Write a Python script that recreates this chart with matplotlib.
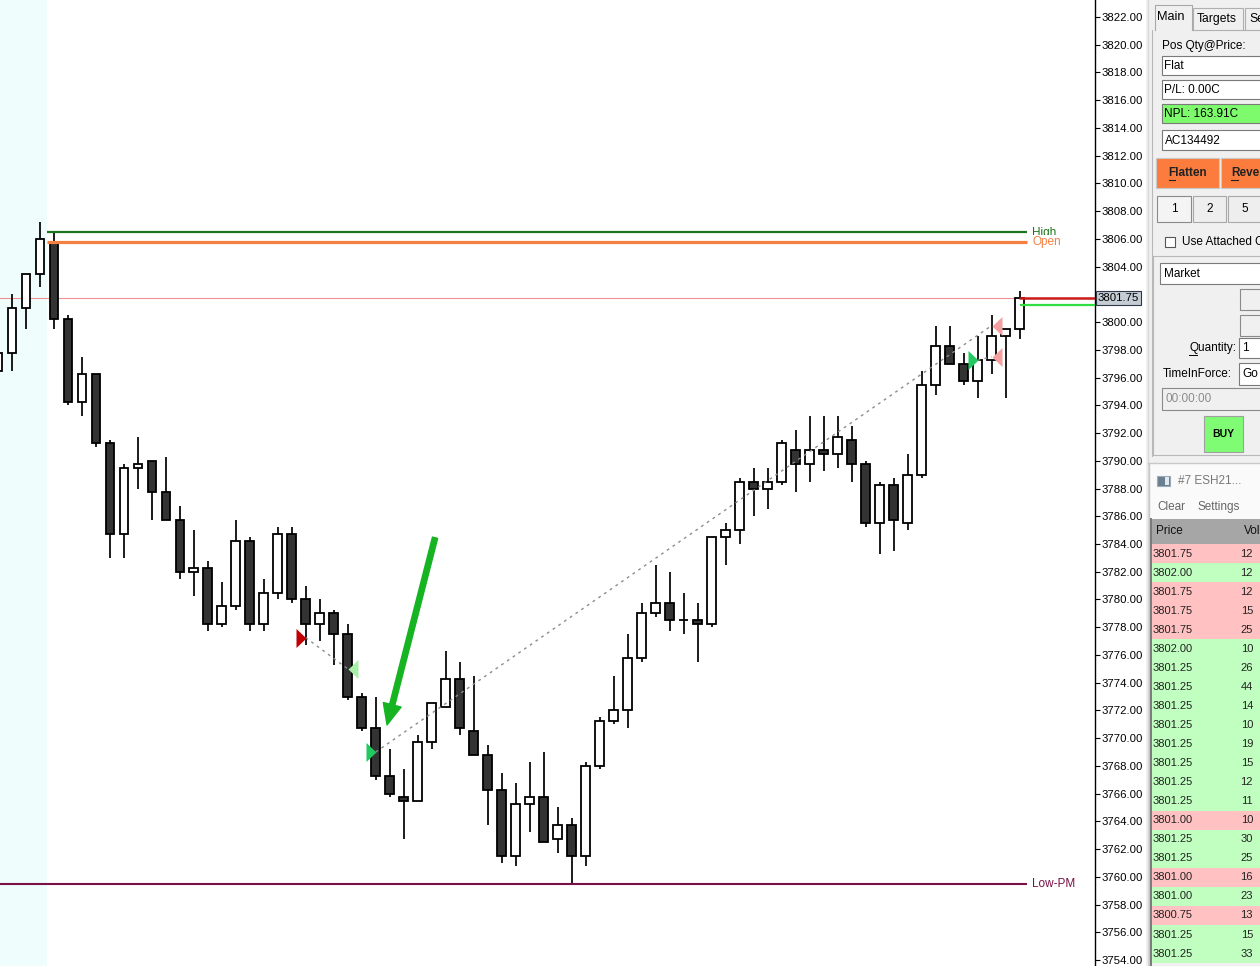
import matplotlib
matplotlib.use("Agg")
import matplotlib.pyplot as plt
import matplotlib.transforms as mtransforms
import numpy as np
from matplotlib.patches import Rectangle

plt.rcParams["font.family"] = ["Liberation Sans", "DejaVu Sans"]

# ---- bars (1-minute ES, first bar is only partly visible) ----
opens = [3796.50, 3797.75, 3801.00, 3803.50, 3805.75, 3800.25, 3794.25, 3796.25, 3791.25, 3784.75,
         3789.50, 3790.00, 3787.75, 3785.75, 3782.00, 3782.25, 3778.25, 3779.50, 3784.25, 3778.25,
         3780.50, 3784.75, 3780.00, 3778.25, 3779.00, 3777.50, 3773.00, 3770.75, 3767.25, 3765.75,
         3765.50, 3769.75, 3772.25, 3774.25, 3770.50, 3768.75, 3766.25, 3761.50, 3765.25, 3765.75,
         3762.75, 3763.75, 3761.50, 3768.00, 3771.25, 3772.00, 3775.75, 3779.00, 3779.75, 3778.50,
         3778.50, 3778.25, 3784.50, 3785.00, 3788.50, 3788.00, 3788.50, 3790.75, 3789.75, 3790.75,
         3790.50, 3791.50, 3789.75, 3785.50, 3788.25, 3785.50, 3789.00, 3795.50, 3798.25, 3797.00,
         3795.75, 3797.25, 3799.00, 3799.50]
highs = [3797.75, 3802.00, 3803.50, 3807.25, 3806.50, 3800.50, 3797.50, 3796.25, 3791.50, 3789.75,
         3791.75, 3790.00, 3790.25, 3786.75, 3785.00, 3782.75, 3781.25, 3785.75, 3784.50, 3781.50,
         3785.25, 3785.25, 3781.00, 3780.00, 3779.25, 3778.25, 3773.25, 3773.00, 3769.25, 3767.75,
         3770.25, 3772.50, 3776.25, 3775.50, 3774.50, 3769.50, 3767.50, 3766.75, 3768.25, 3769.00,
         3765.00, 3764.25, 3768.25, 3771.50, 3774.50, 3777.50, 3779.75, 3782.50, 3782.00, 3780.50,
         3779.75, 3784.50, 3785.50, 3788.75, 3789.50, 3789.50, 3791.50, 3792.25, 3793.25, 3793.25,
         3793.25, 3792.50, 3790.00, 3788.50, 3788.75, 3790.50, 3796.50, 3799.75, 3799.75, 3797.75,
         3799.00, 3800.50, 3799.50, 3802.25]
lows = [3796.50, 3796.50, 3799.50, 3802.50, 3799.50, 3794.00, 3793.25, 3791.00, 3783.00, 3783.00,
        3788.00, 3785.75, 3785.75, 3781.50, 3780.25, 3777.75, 3778.00, 3779.25, 3777.75, 3777.75,
        3780.00, 3779.75, 3776.75, 3777.00, 3775.25, 3772.75, 3770.50, 3767.00, 3765.75, 3762.75,
        3765.50, 3769.25, 3772.25, 3770.25, 3768.75, 3763.75, 3761.00, 3760.75, 3763.25, 3762.50,
        3761.75, 3759.50, 3760.75, 3767.75, 3771.00, 3770.75, 3775.50, 3778.75, 3777.75, 3777.50,
        3775.50, 3778.00, 3782.50, 3784.00, 3786.00, 3786.50, 3788.25, 3787.75, 3788.50, 3789.25,
        3789.50, 3788.50, 3785.25, 3783.25, 3783.50, 3785.00, 3788.75, 3794.75, 3797.00, 3795.50,
        3794.50, 3796.25, 3794.50, 3798.75]
closes = [3797.75, 3801.00, 3803.50, 3806.00, 3800.25, 3794.25, 3796.25, 3791.25, 3784.75, 3789.50,
          3789.75, 3787.75, 3785.75, 3782.00, 3782.25, 3778.25, 3779.50, 3784.25, 3778.25, 3780.50,
          3784.75, 3780.00, 3778.25, 3779.00, 3777.50, 3773.00, 3770.75, 3767.25, 3766.00, 3765.50,
          3769.75, 3772.50, 3774.25, 3770.75, 3768.75, 3766.25, 3761.50, 3765.25, 3765.75, 3762.50,
          3763.75, 3761.50, 3768.00, 3771.25, 3772.00, 3775.75, 3779.00, 3779.75, 3778.50, 3778.50,
          3778.25, 3784.50, 3785.00, 3788.50, 3788.00, 3788.50, 3791.25, 3789.75, 3790.75, 3790.50,
          3791.75, 3789.75, 3785.50, 3788.25, 3785.75, 3789.00, 3795.50, 3798.25, 3797.00, 3795.75,
          3797.25, 3799.00, 3799.50, 3801.75]

first_rth_bar = 4          # bars before this are pre-market
session_high = 3806.50
session_open = 3805.75
premarket_low = 3759.50
last_price = 3801.75
ask_price = 3801.75
bid_price = 3801.25

# ---- executions: bar, price, kind ----
fill_bar = [22, 25, 27, 70, 71, 71]
fill_price = [3777.25, 3775.00, 3769.00, 3797.25, 3799.75, 3797.50]
fill_kind = ["sell_entry", "buy_exit", "buy_entry", "buy_entry", "sell_exit", "sell_exit"]
fill_pairs = [(0, 1), (2, 4), (3, 5)]

# hand-drawn arrow (bar, price)
arrow_tail = (31.24, 3784.45)
arrow_head = (27.81, 3770.95)

# the 3802 label sits under the last-price box
price_ticks = [t for t in range(3754, 3823, 2) if t != 3802]

# ---- time & sales tape ----
tape_price = ["3801.75", "3802.00", "3801.75", "3801.75", "3801.75", "3802.00", "3801.25", "3801.25",
              "3801.25", "3801.25", "3801.25", "3801.25", "3801.25", "3801.25", "3801.00", "3801.25",
              "3801.25", "3801.00", "3801.00", "3800.75", "3801.25", "3801.25"]
tape_vol = [12, 12, 12, 15, 25, 10, 26, 44, 14, 10, 19, 15, 12, 11, 10, 30, 25, 16, 23, 13, 15, 33]
tape_side = ["bid", "ask", "bid", "bid", "bid", "ask", "ask", "ask", "ask", "ask", "ask", "ask",
             "ask", "ask", "bid", "ask", "ask", "bid", "ask", "bid", "ask", "ask"]

W, H = 1260, 966
fig = plt.figure(figsize=(W / 100, H / 100), dpi=100)
fig.patch.set_facecolor("white")

chart_w = 1095
ax = fig.add_axes([0, 0, chart_w / W, 1])
ax.set_ylim(3753.569, 3823.226)
ax.set_xlim(0.164, 78.38)

x = np.arange(len(opens))
o = np.array(opens); c = np.array(closes); hi = np.array(highs); lo = np.array(lows)
up = c >= o

ax.axvspan(0.164, first_rth_bar - 0.48, color="#f0fdfd", zorder=0, lw=0)

ax.vlines(x, lo, hi, color="black", lw=1.25, zorder=2)
ax.bar(x[up], (c - o)[up], bottom=o[up], width=0.6, facecolor="white", edgecolor="black", lw=1.3, zorder=3)
ax.bar(x[~up], (o - c)[~up], bottom=c[~up], width=0.6, facecolor="#333333", edgecolor="black", lw=1.3, zorder=3)

line_end = x[-1] + 0.52
lbl_x = x[-1] + 0.88
ax.hlines(session_high, first_rth_bar - 0.48, line_end, color="#1c741c", lw=1.6, zorder=4)
ax.hlines(session_open, first_rth_bar - 0.48, line_end, color="#f47f40", lw=2.3, zorder=4)
ax.hlines(premarket_low, 0.164, line_end, color="#7a1045", lw=1.5, zorder=4)
ax.text(lbl_x, session_high - 0.08, "High", color="#1c741c", fontsize=8.5, va="center", zorder=5)
ax.text(lbl_x, session_open, "Open", color="#f47f40", fontsize=8.5, va="center", zorder=6,
        bbox=dict(fc="white", ec="none", pad=1.0))
ax.text(lbl_x, premarket_low, "Low-PM", color="#7a1045", fontsize=8.5, va="center", zorder=5)

ax.axhline(last_price, color="#f09090", lw=0.8, zorder=1)
ax.hlines(ask_price, x[-1] - 0.05, 78.38, color="#cc1a1a", lw=1.8, zorder=5)
ax.hlines(bid_price, x[-1], 78.38, color="#33dd44", lw=1.6, zorder=5)

# executions
right_tri = [(-1, -1.9), (1, 0), (-1, 1.9), (-1, -1.9)]
left_tri = [(1, -1.9), (-1, 0), (1, 1.9), (1, -1.9)]
kind_style = {"sell_entry": ("#c00000", right_tri, -0.36),
              "buy_entry": ("#22c860", right_tri, -0.36),
              "buy_exit": ("#a8f0a8", left_tri, 0.38),
              "sell_exit": ("#f4a0a0", left_tri, 0.38)}
for a, b in fill_pairs:
    ax.plot([fill_bar[a], fill_bar[b]], [fill_price[a], fill_price[b]], color="#8c8c8c",
            lw=1.0, ls=(0, (2, 3)), zorder=6)
for b, p, k in zip(fill_bar, fill_price, fill_kind):
    col, mk, off = kind_style[k]
    ax.plot(b + off, p, marker=mk, ms=13.7, color=col, mew=0, ls="none", zorder=7)

ax.annotate("", xy=arrow_head, xytext=arrow_tail,
            arrowprops=dict(arrowstyle="simple,head_length=1.25,head_width=1.1,tail_width=0.32",
                            color="#16b423", mutation_scale=12, shrinkA=0, shrinkB=0), zorder=8)

for s in ["top", "left", "bottom"]:
    ax.spines[s].set_visible(False)
ax.spines["right"].set_color("black")
ax.spines["right"].set_linewidth(1.0)
ax.set_xticks([])
ax.yaxis.tick_right()
ax.set_yticks(price_ticks)
ax.set_yticklabels([f"{t:.2f}" for t in price_ticks], fontsize=8.2)
ax.tick_params(axis="y", direction="out", length=3.5, width=0.8, pad=1.5)

trans = mtransforms.blended_transform_factory(ax.transAxes, ax.transData)
ax.text(1.0 + 3 / chart_w, last_price, f"{last_price:.2f}", transform=trans, fontsize=8.2, va="center",
        ha="left", bbox=dict(fc="#c4ccd4", ec="#303848", lw=0.8, pad=1.2), zorder=10, clip_on=False)

# ---- side panel (pixel coordinates) ----
x0 = 1146
sp = fig.add_axes([x0 / W, 0, (W - x0) / W, 1])
sp.set_xlim(x0, W)
sp.set_ylim(H, 0)
sp.axis("off")
sp.add_patch(Rectangle((x0, 0), W - x0, H, fc="#f0f0f0", ec="none"))
sp.plot([1147.5, 1147.5], [0, H], color="#d8d8d8", lw=1)


def box(xa, ya, xb, yb, fc="white", ec="#7a7a7a", lw=0.8):
    sp.add_patch(Rectangle((xa, ya), xb - xa, yb - ya, fc=fc, ec=ec, lw=lw))


def label(xp, yp, s, **kw):
    kw.setdefault("fontsize", 8.5)
    kw.setdefault("va", "center")
    sp.text(xp, yp, s, **kw)


# tabs
sp.plot([1152, 1152], [30, 456], color="#b8b8b8", lw=0.8)
sp.plot([1192, 1262], [30, 30], color="#b0b0b0", lw=0.8)
sp.plot([1155, 1155, 1192, 1192], [30, 5, 5, 30], color="#a8a8a8", lw=0.8)
sp.plot([1193, 1193, 1243, 1243], [30, 8, 8, 30], color="#b0b0b0", lw=0.8)
sp.plot([1245, 1245, 1262], [30, 8, 8], color="#b0b0b0", lw=0.8)
label(1157, 17, "Main", fontsize=9.2)
label(1197, 19, "Targets", fontsize=8.7)
label(1249, 19, "Se", fontsize=8.7)

label(1162, 46, "Pos Qty@Price:")
box(1162, 56, 1264, 75)
label(1164, 66, "Flat")
box(1162, 80, 1264, 99)
label(1164, 90, "P/L: 0.00C")
box(1162, 104, 1264, 123, fc="#7dfb6d")
label(1164, 114, "NPL: 163.91C")
box(1162, 130, 1264, 150)
label(1165, 140.5, "AC134492")

box(1156, 158, 1219, 188, fc="#fb7c3c", ec="#c8c8c8")
box(1221, 158, 1264, 188, fc="#fb7c3c", ec="#c8c8c8")
label(1187.5, 173, "Flatten", ha="center", fontweight="bold", fontsize=8.5, color="#222222")
label(1231, 173, "Rever", fontweight="bold", fontsize=8.5, color="#222222")
sp.plot([1169, 1175], [179.5, 179.5], color="#222222", lw=0.8)
sp.plot([1231, 1238], [179.5, 179.5], color="#222222", lw=0.8)

box(1157, 196, 1191, 222, fc="#f4f4f4", ec="#8a8a8a")
box(1193, 196, 1226, 222, fc="#eeeeee", ec="#a8a8a8")
box(1228, 196, 1264, 222, fc="#eeeeee", ec="#a8a8a8")
label(1174, 209, "1", ha="center")
label(1209.5, 209, "2", ha="center")
label(1244.5, 209, "5", ha="center")

box(1165, 237, 1175, 247, ec="#555555")
label(1182, 242, "Use Attached O")

sp.plot([1153, 1153, 1262], [455, 256, 256], color="#b8b8b8", lw=0.8)
sp.plot([1153, 1262], [455, 455], color="#b8b8b8", lw=0.8)
box(1160, 263, 1264, 284)
label(1164, 274, "Market")
box(1240, 289, 1264, 310, fc="#f0f0f0", ec="#8a8a8a")
box(1240, 315, 1264, 336, fc="#f0f0f0", ec="#8a8a8a")
label(1236, 348, "Quantity:", ha="right")
sp.plot([1189, 1197], [354.5, 354.5], color="black", lw=0.7)
box(1239, 338, 1264, 358)
label(1242, 348, "1")
label(1163, 374, "TimeInForce:")
box(1239, 363, 1264, 385)
label(1242, 374, "Go")
box(1162, 388, 1264, 410, fc="#f0f0f0", ec="#8a8a8a")
label(1165, 399, "00:00:00", color="#8c8c8c")
box(1204, 416, 1243, 452, fc="#80fc74", ec="#a0a0a0")
label(1223.5, 434, "BUY", ha="center", fontweight="bold", fontsize=7.5)

# time & sales window
sp.add_patch(Rectangle((1148, 463), W - 1148, 56, fc="#fafafa", ec="none"))
sp.plot([1148, 1262], [463, 463], color="#c8c8c8", lw=1)
sp.plot([1148.5, 1148.5], [463, H], color="#c8c8c8", lw=1)
box(1157, 476, 1170, 486, fc="#6a8090", ec="#9aaab8")
sp.add_patch(Rectangle((1165, 477), 4, 8, fc="#e0e8f0", ec="none"))
label(1178, 481, "#7 ESH21...", color="#777777")
label(1157, 507, "Clear", color="#666666")
label(1197, 507, "Settings", color="#666666")

box(1151, 519, 1264, 544, fc="#a6a6a6", ec="none")
label(1156, 531.5, "Price", color="#111111")
label(1244, 531.5, "Vol", color="#111111")
sp.plot([1150.5, 1150.5], [519, H], color="#7a7a7a", lw=1.4)

row_h = 19.05
side_color = {"bid": "#ffc1c1", "ask": "#c1ffc1"}
for r, (p, v, s) in enumerate(zip(tape_price, tape_vol, tape_side)):
    yt = 544 + r * row_h
    sp.add_patch(Rectangle((1151, yt), W - 1151, row_h, fc=side_color[s], ec="none"))
    label(1153, yt + row_h / 2, p, fontsize=8, color="#222222")
    label(1253, yt + row_h / 2, str(v), fontsize=8, color="#222222", ha="right")

fig.savefig("out.png", dpi=100)
